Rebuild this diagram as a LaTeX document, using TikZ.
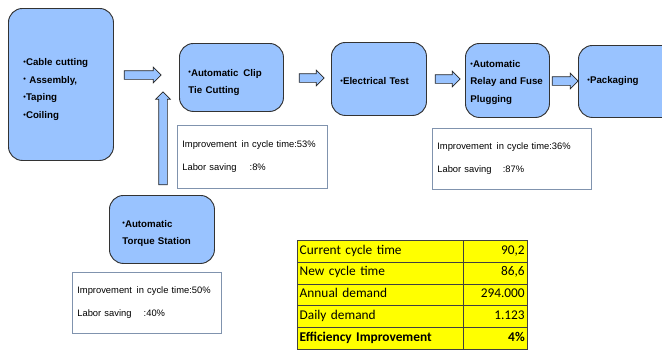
\documentclass[tikz,border=0pt]{standalone}
\usepackage{fontspec}
\setmainfont{Liberation Sans}
\newfontfamily\calibri{Carlito}
\usetikzlibrary{shapes.arrows}
\definecolor{stageblue}{HTML}{99C3FF}
\definecolor{noteframe}{HTML}{8093AE}
\definecolor{tableyellow}{HTML}{FFFF00}
\newlength\pxu
\setlength\pxu{0.03cm}
\newcommand\bul{\raisebox{0.25ex}{\scalebox{0.75}{•}}}
\newcommand\toppad[1]{\rule{0pt}{#1}}

\begin{document}
\begin{tikzpicture}[x=0.03cm,y=-0.03cm,
  stage/.style={draw=black!80,line width=0.8pt,fill=stageblue,rounded corners=14\pxu,anchor=north west,align=left,inner ysep=0pt,font=\bfseries\fontsize{8.3}{15}\selectfont},
  note/.style={draw=noteframe,line width=0.6pt,anchor=north west,align=left,inner xsep=5\pxu,inner ysep=0pt,font=\fontsize{8}{20}\selectfont},
  flow/.style={single arrow,draw=black!85,line width=0.6pt,fill=stageblue,inner sep=4\pxu,single arrow head extend=3.5\pxu,single arrow tip angle=90},
  cell/.style={draw=black!75,fill=tableyellow,anchor=north west,minimum height=21.8\pxu,inner xsep=2.5\pxu,inner ysep=0pt,text height=0.72em,text depth=0.22em,font=\calibri\fontsize{11.4}{13}\selectfont}]
\useasboundingbox (0,0) rectangle (662,352);
\clip (0,0) rectangle (662,352);

% process stages
\node[stage,text width=75\pxu,inner xsep=15\pxu,minimum height=152\pxu] (cut) at (8,8) {\toppad{14.5pt}\bul Cable cutting\\\bul\ Assembly,\\\bul Taping\\\bul Coiling};
\node[stage,text width=86\pxu,inner xsep=9\pxu,minimum height=68\pxu] (clip) at (179,43) {\toppad{14.5pt}\bul Automatic\,\ Clip\\Tie Cutting};
\node[stage,text width=77\pxu,inner xsep=9\pxu,minimum height=73\pxu] (etest) at (331,42) {\toppad{9.4pt}\bul Electrical Test};
\node[stage,text width=74\pxu,inner xsep=5\pxu,minimum height=74\pxu] (relay) at (465,43) {\toppad{9.4pt}\bul Automatic\\Relay and Fuse\\Plugging};
\node[stage,text width=90\pxu,inner xsep=9\pxu,minimum height=72\pxu] (pack) at (578,45) {\bul Packaging\\[4\pxu]};
\node[stage,text width=79\pxu,inner xsep=13\pxu,minimum height=68\pxu] (torque) at (109,195) {\toppad{12.8pt}\bul Automatic\\Torque Station};

% flow arrows
\node[flow,minimum height=37\pxu] (a1) at (140.5,75) {};
\node[flow,minimum height=25\pxu] (a2) at (309.5,78) {};
\node[flow,minimum height=25\pxu] (a3) at (445.5,79) {};
\node[flow,minimum height=26\pxu] (a4) at (563,81) {};
\node[flow,minimum height=93\pxu,single arrow head extend=3\pxu,shape border rotate=90] (a5) at (163,140.5) {};

% improvement notes
\node[note,text width=140\pxu,minimum height=63\pxu] (n1) at (177,125) {Improvement\,\ in cycle time:53\%\\Labor saving\hspace{1.4em}:8\%};
\node[note,text width=149\pxu,minimum height=61\pxu] (n2) at (432,128) {Improvement\,\ in cycle time:36\%\\Labor saving\hspace{1.2em}:87\%};
\node[note,text width=139\pxu,minimum height=61\pxu] (n3) at (72,272) {Improvement\,\ in cycle time:50\%\\Labor saving\hspace{1.3em}:40\%};

% summary table
\foreach \lab/\val [count=\i] in {Current cycle time/{90,2},New cycle time/{86,6},Annual demand/294.000,Daily demand/1.123,\textbf{Efficiency Improvement}/\textbf{4\%}}{
  \node[cell,text width=161\pxu,align=left] (l\i) at (297,{240+(\i-1)*21.8}) {\lab};
  \node[cell,text width=59\pxu,align=right] (r\i) at (463,{240+(\i-1)*21.8}) {\val};
}
\end{tikzpicture}
\end{document}
